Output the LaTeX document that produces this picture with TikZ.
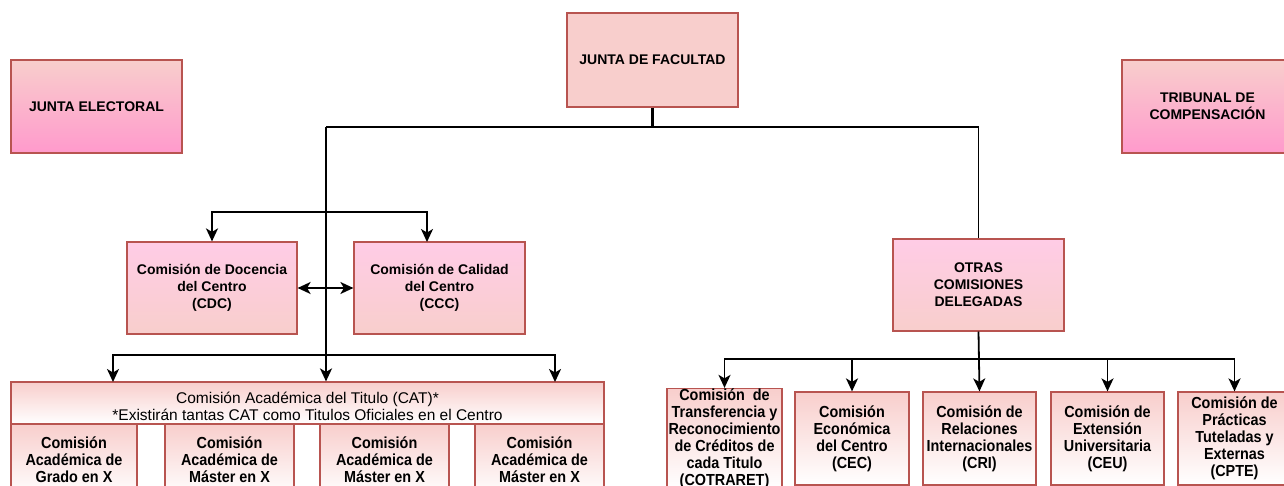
\documentclass[tikz,border=0pt]{standalone}
\usepackage{fontspec}
\setmainfont{Liberation Sans}
\newfontfamily\narrowfont{Liberation Sans}[FakeStretch=0.9]
\usetikzlibrary{arrows.meta}
\definecolor{boxred}{HTML}{B85450}
\definecolor{pinkA}{HTML}{F8CECC}
\definecolor{pinkB}{HTML}{FF9ACC}
\definecolor{pinkC}{HTML}{FFCCE6}
\tikzset{
  x=1pt, y=-1pt,
  box/.style={draw=boxred, line width=1.2pt, rectangle, inner sep=0pt, align=center, text=black},
  topfont/.style={font=\fontsize{14}{17}\selectfont\bfseries},
  lowfont/.style={font=\narrowfont\fontsize{16}{17}\selectfont\bfseries},
  headfont/.style={font=\fontsize{15.5}{16.5}\selectfont},
  flatbox/.style={box, topfont, fill=pinkA},
  sidebox/.style={box, topfont, top color=pinkA, bottom color=pinkB},
  midbox/.style={box, topfont, top color=pinkC, bottom color=pinkA},
  lowbox/.style={box, lowfont, top color=pinkA, bottom color=white},
  tip/.tip={Stealth[length=13pt,width=12pt,inset=3.5pt]},
  conn/.style={draw=black, line width=1.8pt},
  stub/.style={draw=black, line width=3pt},
  arr/.style={conn, -tip},
  darr/.style={conn, tip-tip},
}
\begin{document}
\begin{tikzpicture}
\useasboundingbox (0,0) rectangle (1284,486);
\clip (0,0) rectangle (1284,486);

% top row
\node[flatbox, minimum width=171, minimum height=94] (JF) at (652.5,60) {JUNTA DE FACULTAD};
\node[sidebox, minimum width=171, minimum height=93] (JE) at (96.5,106.5) {JUNTA ELECTORAL};
\node[sidebox, minimum width=171, minimum height=93] (TR) at (1207.5,106.5) {TRIBUNAL DE\\COMPENSACIÓN};

% middle row
\node[midbox, minimum width=170, minimum height=92] (CDC) at (212,288) {Comisión de Docencia\\del Centro\\(CDC)};
\node[midbox, minimum width=171, minimum height=92] (CCC) at (439.5,288) {Comisión de Calidad\\del Centro\\(CCC)};
\node[midbox, minimum width=171, minimum height=92] (OT) at (978.5,285) {OTRAS\\COMISIONES\\DELEGADAS};

% CAT block
\node[box, top color=pinkA, bottom color=white, minimum width=593, minimum height=42] (CAT) at (307.5,403) {};
\node[headfont, align=center, inner sep=0pt] (CATt) at (307.5,406.5)
  {Comisión Académica del Titulo (CAT)*\\*Existirán tantas CAT como Titulos Oficiales en el Centro};
\node[lowbox, minimum width=126, minimum height=72] (S1) at (74,460) {Comisión\\Académica de\\Grado en X};
\node[lowbox, minimum width=129, minimum height=72] (S2) at (229.5,460) {Comisión\\Académica de\\Máster en X};
\node[lowbox, minimum width=129, minimum height=72] (S3) at (384.5,460) {Comisión\\Académica de\\Máster en X};
\node[lowbox, minimum width=129, minimum height=72] (S4) at (539.5,460) {Comisión\\Académica de\\Máster en X};

% other commissions
\node[lowbox, minimum width=115, minimum height=93] (B1) at (724.5,438.5) {Comisión\ \ de\\Transferencia y\\Reconocimiento\\de Créditos de\\cada Titulo\\(COTRARET)};
\node[lowbox, minimum width=114, minimum height=93] (B2) at (852,438.5) {Comisión\\Económica\\del Centro\\(CEC)};
\node[lowbox, minimum width=113, minimum height=93] (B3) at (979.5,438.5) {Comisión de\\Relaciones\\Internacionales\\(CRI)};
\node[lowbox, minimum width=113, minimum height=93] (B4) at (1107.5,438.5) {Comisión de\\Extensión\\Universitaria\\(CEU)};
\node[lowbox, minimum width=113, minimum height=93] (B5) at (1234.5,438.5) {Comisión de\\Prácticas\\Tuteladas y\\Externas\\(CPTE)};

% coordinates
\coordinate (spine) at (326,127);
\coordinate (br2) at (326,212);
\coordinate (br3) at (326,355);
\coordinate (ccctop) at (427,242);
\coordinate (catL) at (113,382);
\coordinate (catR) at (555,382);

% connectors
\draw[stub] (JF.south) -- (JF.south |- spine);
\draw[conn] (spine) -- (spine -| OT.north) -- (OT.north);
\draw[arr] (spine) -- (spine |- CAT.north);
\draw[arr] (br2) -| (CDC.north);
\draw[arr] (br2) -| (ccctop);
\draw[darr] (CDC.east) -- (CCC.west);
\draw[arr] (br3) -| (catL);
\draw[arr] (br3) -| (catR);

\draw[arr] (OT.south) -- (B3.north);
\draw[arr] (OT.south) -- ++(0,27) -| (B1.north);
\draw[arr] (OT.south) -- ++(0,27) -| (B2.north);
\draw[arr] (OT.south) -- ++(0,27) -| (B4.north);
\draw[arr] (OT.south) -- ++(0,27) -| (B5.north);
\end{tikzpicture}
\end{document}
